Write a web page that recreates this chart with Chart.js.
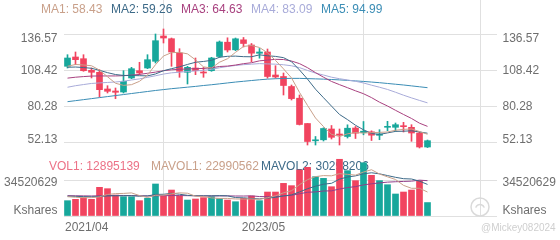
<!DOCTYPE html>
<html>
<head>
<meta charset="utf-8">
<title>K-line</title>
<script src="https://cdn.jsdelivr.net/npm/chart.js@4.4.1/dist/chart.umd.min.js"></script>
<style>
  html, body { margin: 0; padding: 0; background: #fff; }
  canvas { display: block; }
</style>
</head>
<body>
<canvas id="kline" width="560" height="240"></canvas>
<script>
// monthly candles, first bar = 2021/04
const opens = [111.77, 119.07, 117.73, 108.63, 107.06, 93.96, 92.38, 91.60, 102.59, 108.31,
  110.43, 115.69, 135.54, 133.42, 122.20, 107.06, 110.43, 107.30, 108.31, 119.46,
  130.68, 124.71, 132.56, 128.48, 121.97, 122.99, 104.94, 103.76, 95.92, 86.74,
  66.88, 53.31, 54.09, 62.57, 58.64, 56.68, 63.35, 59.66, 60.37, 57.62,
  63.90, 63.90, 65.16, 63.90, 59.43, 48.44];
const highs = [120.87, 122.99, 120.87, 110.43, 109.10, 96.54, 94.74, 108.31, 110.98, 114.91,
  120.87, 137.11, 141.04, 133.97, 125.58, 111.77, 118.28, 110.98, 118.83, 131.62,
  134.13, 133.97, 134.37, 129.66, 125.74, 125.34, 112.24, 106.51, 97.09, 89.25,
  66.88, 56.68, 63.51, 65.31, 62.57, 65.86, 64.53, 68.45, 61.15, 62.02,
  68.61, 67.27, 67.82, 65.94, 60.21, 53.93];
const lows = [110.43, 113.02, 107.84, 102.59, 87.68, 90.82, 86.34, 90.82, 102.04, 105.18,
  109.89, 114.36, 130.05, 111.77, 103.14, 97.88, 105.18, 103.14, 107.84, 118.83,
  122.99, 124.01, 126.91, 115.38, 118.12, 102.43, 102.43, 89.25, 85.32, 65.71,
  50.01, 50.01, 53.15, 54.72, 50.01, 55.50, 55.11, 58.02, 53.54, 54.17,
  61.23, 60.76, 60.21, 52.91, 47.66, 48.00];
const closes = [118.28, 116.95, 108.31, 107.06, 93.41, 92.15, 91.37, 100.00, 109.89, 106.51,
  116.95, 131.86, 133.97, 122.99, 107.84, 110.98, 108.31, 106.51, 118.28, 130.84,
  124.56, 133.35, 129.66, 122.05, 122.99, 103.76, 103.37, 96.70, 86.42, 66.10,
  52.76, 54.09, 62.96, 56.05, 57.62, 63.19, 59.27, 60.84, 57.70, 58.64,
  64.69, 65.94, 64.37, 59.43, 48.44, 53.39];

// moving average lines
const ma1 = [111.8, 113.2, 112.8, 112.2, 108.80, 103.58, 98.46, 96.80, 97.36, 99.98,
  104.94, 113.04, 119.84, 122.46, 122.72, 121.53, 116.82, 111.33, 110.38, 114.98,
  117.70, 122.71, 127.34, 128.09, 126.52, 122.36, 116.37, 109.77, 102.65, 91.27,
  81.07, 71.21, 64.47, 58.39, 56.70, 58.78, 59.82, 59.39, 59.72, 59.93,
  60.23, 61.56, 62.27, 62.61, 60.57, 58.43];
const ma2 = [111.0, 111.2, 110.8, 110.2, 108.6, 106.8, 105.3, 104.6, 104.5, 104.39,
  104.26, 105.75, 108.32, 109.91, 111.35, 113.24, 114.93, 115.58, 116.42, 118.85,
  119.61, 119.76, 119.33, 119.24, 120.75, 120.03, 119.54, 118.56, 115.37, 108.90,
  101.72, 93.79, 87.12, 80.52, 73.98, 69.93, 65.52, 61.93, 59.06, 58.31,
  59.51, 60.69, 60.83, 61.17, 60.25, 59.26];
const ma3 = [102.5, 103.2, 103.7, 104.1, 104.2, 104.2, 104.2, 104.4, 104.9, 105.4,
  106.3, 107.2, 108.3, 109.0, 109.4, 109.7, 109.9, 110.1, 110.6, 111.62,
  111.94, 112.76, 113.82, 114.57, 116.05, 116.63, 117.23, 117.07, 115.90, 113.87,
  110.67, 106.78, 103.23, 99.88, 97.37, 94.98, 92.53, 90.24, 87.21, 83.60,
  80.61, 77.24, 73.98, 70.84, 67.12, 64.63];
const ma4 = [95.34, 96.53, 97.44, 98.31, 98.73, 99.10, 99.44, 100.08, 101.04, 101.89,
  103.09, 104.35, 105.68, 106.65, 107.11, 107.68, 108.15, 108.57, 109.38, 110.61,
  111.63, 112.40, 113.05, 113.44, 113.87, 113.65, 113.43, 112.98, 112.18, 110.71,
  108.53, 106.43, 104.92, 103.22, 102.03, 101.06, 99.99, 98.69, 96.95, 95.35,
  93.61, 91.41, 89.09, 86.98, 85.00, 83.09];
const ma5 = [84.0, 84.8, 85.6, 86.4, 87.2, 88.0, 88.8, 89.6, 90.4, 91.2,
  92.0, 92.8, 93.5, 94.2, 94.8, 95.4, 96.0, 96.7, 97.3, 98.0,
  98.7, 99.4, 100.0, 100.6, 101.2, 101.7, 102.0, 102.2, 102.3, 102.3,
  102.1, 101.9, 101.7, 101.4, 101.1, 100.7, 100.3, 99.9, 99.4, 98.9,
  98.3, 97.7, 97.1, 96.4, 95.7, 94.99];

// volume panel
const volumes = [14700000, 16000000, 17600000, 16000000, 27500000, 26200000, 20100000, 18500000, 18500000, 14700000,
  17000000, 30700000, 19200000, 24900000, 19200000, 15300000, 16300000, 17600000, 18500000, 16600000,
  15300000, 13700000, 17000000, 19200000, 14700000, 23000000, 23000000, 31300000, 29100000, 44100000,
  46700000, 37700000, 36100000, 28100000, 54400000, 43500000, 33900000, 51100000, 39000000, 33900000,
  30000000, 21100000, 23000000, 24900000, 33900000, 12895139];
const mavol1 = [18500000, 18000000, 17500000, 17600000, 18360000, 20660000, 21480000, 21660000, 22160000, 19600000,
  17760000, 19880000, 20020000, 21300000, 22200000, 21860000, 18980000, 18660000, 17380000, 16860000,
  16860000, 16340000, 16220000, 16360000, 15980000, 17520000, 19380000, 22240000, 24220000, 30100000,
  34840000, 37780000, 38740000, 38540000, 40600000, 39960000, 39200000, 42200000, 44380000, 40280000,
  37580000, 35020000, 29400000, 26580000, 26580000, 22990562];
const mavol2 = [19000000, 18800000, 18600000, 18400000, 18800000, 19200000, 19400000, 19400000, 19500000, 18980000,
  19210000, 20680000, 20840000, 21730000, 20900000, 19810000, 19430000, 19340000, 19340000, 19530000,
  19360000, 17660000, 17440000, 16870000, 16420000, 17190000, 17860000, 19230000, 20290000, 23040000,
  26180000, 28580000, 30490000, 31380000, 35350000, 37400000, 38490000, 40470000, 41460000, 40440000,
  38770000, 37110000, 35800000, 35480000, 33430000, 30298206];
const mavol3 = [19500000, 19400000, 19300000, 19200000, 19400000, 19600000, 19700000, 19700000, 19600000, 19400000,
  19300000, 19400000, 19500000, 19600000, 19600000, 19500000, 19400000, 19300000, 19300000, 19260000,
  19290000, 19170000, 19140000, 19300000, 18660000, 18500000, 18650000, 19290000, 19820000, 21290000,
  22770000, 23120000, 23970000, 24130000, 25890000, 27300000, 28180000, 29850000, 30880000, 31740000,
  32480000, 32850000, 33150000, 33430000, 34390000, 33890000];

// axis ticks
const priceTicks = [136.57, 108.42, 80.28, 52.13];
const volumeTicks = [34520629, 0];
const dateTickIndex = [0, 25, 50];
const dateTickText = ["2021/04", "2023/05", ""];

const UP = "#17a79b";
const DOWN = "#f1445f";
const GRID = "#e0e0e0";
const LABEL = "#6e6e6e";
const maColors = ["#c9a08a", "#3d6a88", "#a8417f", "#a8abd9", "#3b8db5"];
const volColors = ["#c9a08a", "#3d6a88", "#913f8a"];

function points(values) {
  return values.map((v, i) => ({ x: i, y: v }));
}

function candleColor(ctx) {
  return closes[ctx.dataIndex] >= opens[ctx.dataIndex] ? UP : DOWN;
}

function maLine(values, color, axis) {
  return {
    type: "line",
    data: points(values),
    borderColor: color,
    borderWidth: 1,
    pointRadius: 0,
    tension: 0,
    yAxisID: axis,
    order: 0,
  };
}

// texts drawn around the panels (legends, axis labels, watermark)
const panelText = {
  id: "panelText",
  beforeDatasetsDraw(chart) {
    const ctx = chart.ctx;
    ctx.save();
    ctx.font = "12px Arial";
    ctx.textBaseline = "middle";
    ctx.textAlign = "left";

    const maNames = ["MA1", "MA2", "MA3", "MA4", "MA5"];
    const maLast = [ma1, ma2, ma3, ma4, ma5].map((a) => a[a.length - 1]);
    const maX = [41, 111, 181, 251, 321];
    maNames.forEach((name, k) => {
      ctx.fillStyle = maColors[k];
      ctx.fillText(name + ": " + maLast[k].toFixed(2), maX[k], 10);
    });

    const volNames = ["VOL1", "MAVOL1", "MAVOL2"];
    const volLast = [volumes, mavol1, mavol2].map((a) => a[a.length - 1]);
    const volLegendColors = ["#ec7287", volColors[0], volColors[1]];
    const volX = [49, 151, 261];
    volNames.forEach((name, k) => {
      ctx.fillStyle = volLegendColors[k];
      ctx.fillText(name + ": " + volLast[k], volX[k], 166.5);
    });
    ctx.restore();
  },
  afterDraw(chart) {
    const { ctx, chartArea, scales } = chart;
    ctx.save();
    ctx.font = "12px Arial";
    ctx.textBaseline = "middle";
    ctx.fillStyle = LABEL;

    const clamp = (v, lo, hi) => Math.min(Math.max(v, lo), hi);

    priceTicks.forEach((v) => {
      const y = clamp(scales.y.getPixelForValue(v), 39, 139.5);
      ctx.textAlign = "right";
      ctx.fillText(v.toFixed(2), chartArea.left - 6.5, y);
      ctx.textAlign = "left";
      ctx.fillText(v.toFixed(2), chartArea.right + 5.5, y);
    });

    volumeTicks.forEach((v) => {
      const y = clamp(scales.v.getPixelForValue(v), 182.5, 211);
      const text = v === 0 ? "Kshares" : String(v);
      ctx.textAlign = "right";
      ctx.fillText(text, chartArea.left - 6.5, y);
      ctx.textAlign = "left";
      ctx.fillText(text, chartArea.right + 5.5, y);
    });

    dateTickIndex.forEach((idx, k) => {
      if (!dateTickText[k]) return;
      const x = scales.x.getPixelForValue(idx - 0.5);
      if (x <= chartArea.left + 1) {
        ctx.textAlign = "left";
        ctx.fillText(dateTickText[k], chartArea.left + 1, 228);
      } else {
        ctx.textAlign = "center";
        ctx.fillText(dateTickText[k], x, 228);
      }
    });

    // watermark
    ctx.strokeStyle = "#dadada";
    ctx.lineWidth = 1.5;
    ctx.beginPath();
    ctx.arc(480, 207, 9, 0, Math.PI * 2);
    ctx.stroke();
    ctx.beginPath();
    ctx.arc(480, 209, 4.5, Math.PI * 1.1, Math.PI * 1.9);
    ctx.stroke();
    ctx.font = "10px Arial";
    ctx.fillStyle = "#cfcfcf";
    ctx.textAlign = "left";
    ctx.fillText("@Mickey082024", 481, 228);
    ctx.restore();
  },
};

const ctx = document.getElementById("kline").getContext("2d");

new Chart(ctx, {
  type: "bar",
  data: {
    datasets: [
      maLine(ma1, maColors[0], "y"),
      maLine(ma2, maColors[1], "y"),
      maLine(ma3, maColors[2], "y"),
      maLine(ma4, maColors[3], "y"),
      maLine(ma5, maColors[4], "y"),
      {
        // candle bodies
        type: "bar",
        data: opens.map((o, i) => ({ x: i, y: [o, closes[i]] })),
        backgroundColor: candleColor,
        barThickness: 6,
        minBarLength: 1,
        grouped: false,
        yAxisID: "y",
        order: 1,
      },
      {
        // wicks
        type: "bar",
        data: lows.map((l, i) => ({ x: i, y: [l, highs[i]] })),
        backgroundColor: candleColor,
        barThickness: 1,
        grouped: false,
        yAxisID: "y",
        order: 2,
      },
      maLine(mavol1, volColors[0], "v"),
      maLine(mavol2, volColors[1], "v"),
      maLine(mavol3, volColors[2], "v"),
      {
        type: "bar",
        data: points(volumes),
        backgroundColor: candleColor,
        barThickness: 6,
        grouped: false,
        yAxisID: "v",
        order: 1,
      },
    ],
  },
  options: {
    responsive: false,
    animation: false,
    devicePixelRatio: 1,
    layout: { padding: { left: 64, right: 63, top: 0, bottom: 24 } },
    plugins: { legend: { display: false }, tooltip: { enabled: false } },
    scales: {
      x: {
        type: "linear",
        min: -0.4375,
        max: 53.6875,
        offset: false,
        ticks: { display: false },
        border: { display: false },
        grid: { color: GRID, drawTicks: false },
        afterBuildTicks: (s) => {
          s.ticks = [{ value: -0.4375 }, { value: 24.5 }, { value: 49.5 }, { value: 53.6875 }];
        },
      },
      y: {
        type: "linear",
        position: "left",
        stack: "kline",
        stackWeight: 150,
        weight: 2,
        min: 46.09,
        max: 163.79,
        ticks: { display: false },
        border: { display: false },
        grid: { color: GRID, drawTicks: false },
        afterBuildTicks: (s) => {
          s.ticks = priceTicks.map((v) => ({ value: v }));
        },
      },
      v: {
        type: "linear",
        position: "left",
        stack: "kline",
        stackWeight: 66,
        weight: 1,
        min: 0,
        max: 63300000,
        ticks: { display: false },
        border: { display: false },
        grid: { color: GRID, drawTicks: false },
        afterBuildTicks: (s) => {
          s.ticks = volumeTicks.map((v) => ({ value: v }));
        },
      },
    },
  },
  plugins: [panelText],
});
</script>
</body>
</html>
